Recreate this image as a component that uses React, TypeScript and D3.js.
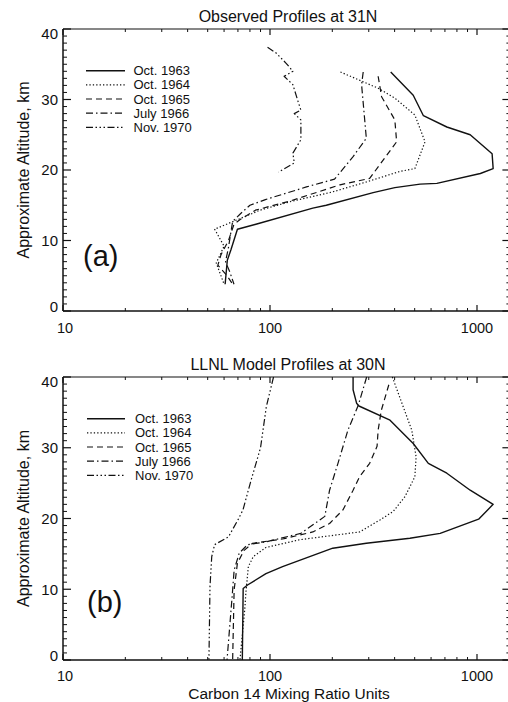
import React from "react";
import * as d3 from "d3";

// ---------- data (Carbon-14 mixing ratio, altitude km) ----------
const seriesNames = ["Oct. 1963", "Oct. 1964", "Oct. 1965", "July 1966", "Nov. 1970"];
const dashPatterns = ["none", "1.3,2.1", "6,4", "7,3,1.5,3", "7,2.5,1.5,2.5,1.5,2.5,1.5,2.5"];
const strokeWidths = [1.4, 1.2, 1.2, 1.2, 1.2];

const obsOct1963: [number, number][] = [
  [383, 33.9], [492, 30.6], [551, 27.7], [715, 26.1], [927, 25.0], [1183, 22.3], [1197, 20.2],
  [1038, 19.5], [640, 18.1], [531, 18.0], [401, 17.5], [315, 16.8], [187, 15.0], [161, 14.6],
  [85.5, 12.3], [69.6, 11.6], [64.7, 8.65], [62.2, 7.2], [60.7, 3.8],
];
const obsOct1964: [number, number][] = [
  [219, 33.9], [333, 31.6], [401, 30.2], [501, 27.8], [561, 24.0], [501, 20.2], [424, 19.8],
  [292, 18.3], [201, 16.9], [125, 15.5], [89.5, 14.3], [71.6, 13.1], [54, 11.6], [60, 9.2],
  [55, 6.8], [60, 3.8],
];
const obsOct1965: [number, number][] = [
  [333, 33.3], [346, 30.4], [401, 27.1], [409, 24.0], [352, 21.4], [303, 18.8], [218, 17.9],
  [125, 15.6], [85, 14.3], [72, 13.0], [67, 12.3], [63, 10.0], [58, 8.0], [56, 6.5], [62, 5.0],
  [66, 3.8],
];
const obsJuly1966: [number, number][] = [
  [282, 33.9], [277, 32.1], [292, 24.5], [252, 21.9], [205, 18.7], [150, 17.6], [95, 15.8],
  [80, 15.0], [72, 13.8], [66, 12.7], [65, 11.5], [63, 9.0], [61, 7.0], [64, 5.5], [67, 3.8],
];
const obsNov1970: [number, number][] = [
  [97.3, 37.4], [107, 36.6], [120, 35.1], [129, 34.0], [117, 33.3], [129, 32.1], [136, 29.9],
  [141, 28.5], [131, 28.0], [141, 27.1], [141, 24.3], [129, 22.4], [131, 21.0], [110, 19.7],
];

const modOct1963: [number, number][] = [
  [252, 40], [252, 38.2], [262, 36.3], [269, 35.9], [380, 33.9], [492, 30.6], [582, 27.8],
  [715, 26.4], [927, 24.0], [1197, 22.0], [1018, 19.9], [664, 17.9], [474, 17.2], [292, 16.5],
  [201, 15.8], [115, 13.2], [95.6, 12.2], [77.9, 10.6], [74.2, 10.1], [73.5, 0],
];
const modOct1964: [number, number][] = [
  [390, 40], [440, 35.8], [484, 32.5], [508, 28.7], [501, 25.9], [449, 23.1], [394, 21.0],
  [340, 19.8], [271, 18.1], [139, 17.0], [95.6, 15.9], [83, 14.6], [78.6, 13.2], [76.4, 9.4],
  [75.7, 7.5], [71.6, 0],
];
const modOct1965: [number, number][] = [
  [375, 38.9], [345, 35.3], [333, 32.5], [329, 30.2], [303, 27.8], [271, 25.9], [252, 24.0],
  [225, 21.2], [194, 19.3], [161, 18.1], [115, 17.1], [82.4, 16.5], [75, 15.5], [69.6, 13.7],
  [67.1, 9.9], [66, 0],
];
const modJuly1966: [number, number][] = [
  [293, 40], [267, 36], [238, 32.5], [213, 27.8], [194, 24.0], [184, 20.3], [141, 17.9],
  [95.6, 16.7], [77.9, 16.3], [71, 15.1], [67.1, 12.7], [65.8, 9.4], [62, 0],
];
const modNov1970: [number, number][] = [
  [104, 40], [96, 35.8], [90, 30], [86, 28], [81, 25.4], [74, 21.2], [70, 19.8], [63, 17.4],
  [54, 16.3], [52.3, 14.6], [51.3, 10.4], [50.7, 0],
];

const observedSeries = [obsOct1963, obsOct1964, obsOct1965, obsJuly1966, obsNov1970];
const modelSeries = [modOct1963, modOct1964, modOct1965, modJuly1966, modNov1970];

const altTicks = [0, 10, 20, 30, 40];
const ratioTicks = [10, 100, 1000];
const panelTitles = ["Observed Profiles at 31N", "LLNL Model Profiles at 30N"];
const panelLetters = ["(a)", "(b)"];
const yTitle = "Approximate Altitude, km";
const xTitle = "Carbon 14 Mixing Ratio Units";

// ---------- layout ----------
const W = 508;
const H = 702;
const X0 = 63;
const X1 = 510.4;
const FONT = "'Liberation Sans', Arial, Helvetica, sans-serif";

const xScale = d3.scaleLog().domain([10, 1450]).range([X0, X1]);

const minorRatio: number[] = [];
[10, 100, 1000].forEach((dec) => {
  for (let m = 2; m <= 9; m++) {
    const v = m * dec;
    if (v < 1450) minorRatio.push(v);
  }
});
const minorAlt = d3.range(0, 41).filter((v) => v % 10 !== 0);

type PanelProps = {
  top: number;
  bottom: number;
  series: [number, number][][];
  title: string;
  letter: string;
  titleBaseline: number;
  xLabelBaseline: number;
  letterBaseline: number;
  letterX: number;
  legendX: number;
  legendTextX: number;
};

function Panel(p: PanelProps) {
  const y = d3.scaleLinear().domain([0, 40]).range([p.bottom, p.top]);
  const line = d3
    .line<[number, number]>()
    .x((d) => xScale(d[0]))
    .y((d) => y(d[1]));
  const ink = "#111";
  return (
    <g>
      {/* frame */}
      <line x1={X0} x2={X1} y1={p.bottom} y2={p.bottom} stroke={ink} strokeWidth={1.5} />
      <line x1={X0} x2={X1} y1={p.top} y2={p.top} stroke={ink} strokeWidth={1.2} />
      <line x1={X0} x2={X0} y1={p.top} y2={p.bottom} stroke={ink} strokeWidth={1.5} />
      <line x1={X1} x2={X1} y1={p.top} y2={p.bottom} stroke={ink} strokeWidth={1.2} />
      {/* y ticks */}
      {altTicks.map((v) => (
        <g key={"ya" + v}>
          <line x1={X0} x2={X0 + 8} y1={y(v)} y2={y(v)} stroke={ink} strokeWidth={1.2} />
          <line x1={X1} x2={X1 - 8} y1={y(v)} y2={y(v)} stroke={ink} strokeWidth={1.2} />
          <text
            x={58}
            y={Math.min(Math.max(y(v), p.top + 5), p.bottom - 4.5) + 5.4}
            textAnchor="end"
            fontSize={15}
            fontFamily={FONT}
            fill={ink}
          >
            {v}
          </text>
        </g>
      ))}
      {minorAlt.map((v) => (
        <g key={"ym" + v}>
          <line x1={X0} x2={X0 + 4} y1={y(v)} y2={y(v)} stroke={ink} strokeWidth={1} />
          <line x1={X1} x2={X1 - 4} y1={y(v)} y2={y(v)} stroke={ink} strokeWidth={1} />
        </g>
      ))}
      {/* x ticks */}
      {ratioTicks.map((v) => (
        <g key={"xa" + v}>
          <line x1={xScale(v)} x2={xScale(v)} y1={p.bottom} y2={p.bottom - 6} stroke={ink} strokeWidth={1.2} />
          <line x1={xScale(v)} x2={xScale(v)} y1={p.top} y2={p.top + 6} stroke={ink} strokeWidth={1.2} />
          <text
            x={xScale(v) + (v === 10 ? 2 : 0)}
            y={p.xLabelBaseline}
            textAnchor="middle"
            fontSize={14.5}
            fontFamily={FONT}
            fill={ink}
          >
            {v}
          </text>
        </g>
      ))}
      {minorRatio.map((v) => (
        <g key={"xm" + v}>
          <line x1={xScale(v)} x2={xScale(v)} y1={p.bottom} y2={p.bottom - 3} stroke={ink} strokeWidth={1} />
          <line x1={xScale(v)} x2={xScale(v)} y1={p.top} y2={p.top + 3} stroke={ink} strokeWidth={1} />
        </g>
      ))}
      {/* title */}
      <text x={288} y={p.titleBaseline} textAnchor="middle" fontSize={16} fontFamily={FONT} fill={ink}>
        {p.title}
      </text>
      {/* y title */}
      <text
        transform={`translate(28.5, ${(p.top + p.bottom) / 2}) rotate(-90)`}
        textAnchor="middle"
        fontSize={16}
        fontFamily={FONT}
        fill={ink}
      >
        {yTitle}
      </text>
      {/* panel letter */}
      <text x={p.letterX} y={p.letterBaseline} fontSize={29} fontFamily={FONT} fill={ink}>
        {p.letter}
      </text>
      {/* curves */}
      {p.series.map((s, i) => (
        <path
          key={"s" + i}
          d={line(s) || ""}
          fill="none"
          stroke={ink}
          strokeWidth={strokeWidths[i]}
          strokeDasharray={dashPatterns[i]}
          strokeLinejoin="round"
        />
      ))}
      {/* legend */}
      {seriesNames.map((name, i) => {
        const ly = p.top + 41.7 + i * 14.15;
        return (
          <g key={"l" + i}>
            <line
              x1={p.legendX}
              x2={125}
              y1={ly}
              y2={ly}
              stroke={ink}
              strokeWidth={strokeWidths[i]}
              strokeDasharray={dashPatterns[i]}
            />
            <text x={p.legendTextX} y={ly + 4.6} fontSize={13} fontFamily={FONT} fill={ink}>
              {name}
            </text>
          </g>
        );
      })}
    </g>
  );
}

export default function App() {
  return (
    <svg
      width={W}
      height={H}
      viewBox={`0 0 ${W} ${H}`}
      style={{ position: "absolute", left: 0, top: 0, background: "#fff" }}
    >
      <rect x={0} y={0} width={W} height={H} fill="#fff" />
      <Panel
        top={29}
        bottom={311}
        series={observedSeries}
        title={panelTitles[0]}
        letter={panelLetters[0]}
        titleBaseline={21.5}
        xLabelBaseline={333}
        letterBaseline={265.5}
        letterX={83}
        legendX={86}
        legendTextX={133.5}
      />
      <Panel
        top={377}
        bottom={660}
        series={modelSeries}
        title={panelTitles[1]}
        letter={panelLetters[1]}
        titleBaseline={370}
        xLabelBaseline={681}
        letterBaseline={612}
        letterX={87}
        legendX={87}
        legendTextX={135}
      />
      <text x={289} y={699} textAnchor="middle" fontSize={15.5} fontFamily={FONT} fill="#111">
        {xTitle}
      </text>
    </svg>
  );
}
